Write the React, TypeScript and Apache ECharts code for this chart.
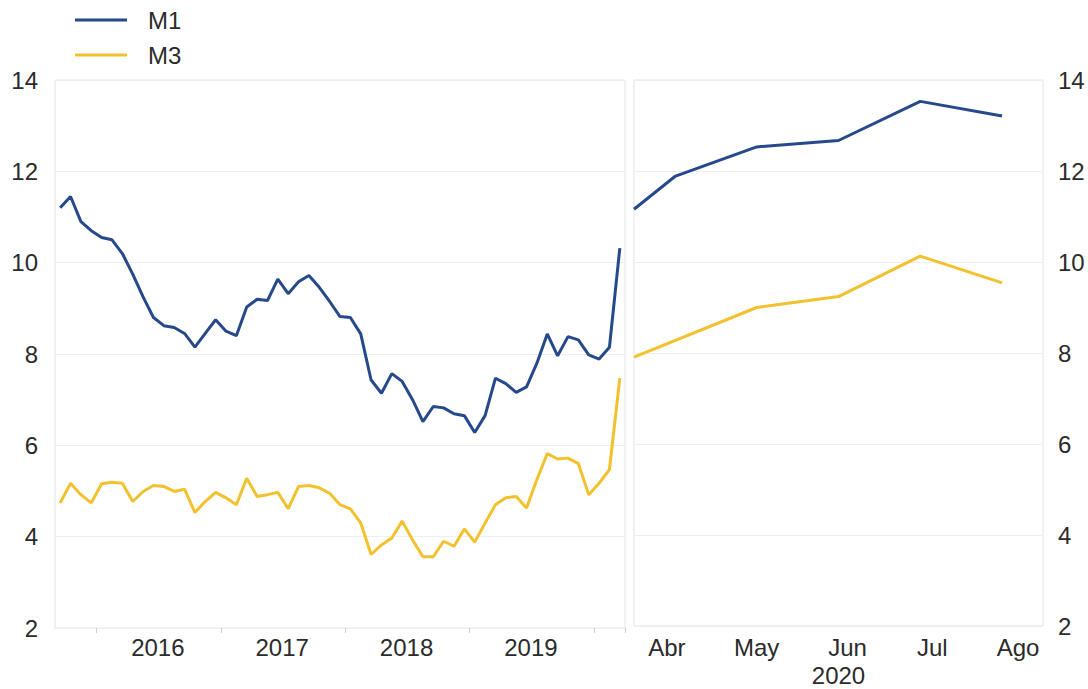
import React, { useEffect, useRef } from "react";
import * as echarts from "echarts";

const months: string[] = [
  "2015-09", "2015-10", "2015-11", "2015-12",
  "2016-01", "2016-02", "2016-03", "2016-04", "2016-05", "2016-06", "2016-07", "2016-08", "2016-09", "2016-10", "2016-11", "2016-12",
  "2017-01", "2017-02", "2017-03", "2017-04", "2017-05", "2017-06", "2017-07", "2017-08", "2017-09", "2017-10", "2017-11", "2017-12",
  "2018-01", "2018-02", "2018-03", "2018-04", "2018-05", "2018-06", "2018-07", "2018-08", "2018-09", "2018-10", "2018-11", "2018-12",
  "2019-01", "2019-02", "2019-03", "2019-04", "2019-05", "2019-06", "2019-07", "2019-08", "2019-09", "2019-10", "2019-11", "2019-12",
  "2020-01", "2020-02", "2020-03",
];

const m1Hist: number[] = [
  11.2, 11.45, 10.9, 10.7, 10.55, 10.5, 10.2, 9.75, 9.25, 8.8,
  8.62, 8.58, 8.45, 8.15, 8.45, 8.75, 8.5, 8.4, 9.03, 9.2,
  9.17, 9.64, 9.32, 9.58, 9.72, 9.46, 9.15, 8.82, 8.8, 8.44,
  7.43, 7.14, 7.57, 7.4, 7.0, 6.52, 6.85, 6.82, 6.69, 6.65,
  6.28, 6.65, 7.47, 7.35, 7.16, 7.28, 7.8, 8.44, 7.96, 8.38,
  8.31, 7.98, 7.89, 8.15, 10.32,
];

const m3Hist: number[] = [
  4.74, 5.17, 4.92, 4.74, 5.16, 5.19, 5.17, 4.77, 4.99, 5.12,
  5.1, 4.99, 5.04, 4.53, 4.77, 4.97, 4.85, 4.7, 5.28, 4.88,
  4.92, 4.97, 4.61, 5.1, 5.12, 5.07, 4.95, 4.7, 4.61, 4.3,
  3.61, 3.82, 3.97, 4.34, 3.93, 3.56, 3.56, 3.9, 3.79, 4.17,
  3.88, 4.3, 4.7, 4.85, 4.88, 4.63, 5.25, 5.82, 5.7, 5.72,
  5.6, 4.92, 5.17, 5.47, 7.47,
];

// 2020 panel: month labels and observation positions (months after 1 April)
const recentMonths: string[] = ["Abr", "May", "Jun", "Jul", "Ago"];
const m1RecentPos: number[] = [0, 0.5, 1.5, 2.5, 3.5, 4.5];
const m1Recent: number[] = [11.16, 11.88, 12.53, 12.67, 13.53, 13.21];
const m3RecentPos: number[] = [0, 1.5, 2.5, 3.5, 4.5];
const m3Recent: number[] = [7.91, 9.0, 9.24, 10.13, 9.54];

const yTicks = { min: 2, max: 14, interval: 2 };

const BLUE = "#25498a";
const YELLOW = "#f2c12e";
const FONT = "'Liberation Sans', Arial, sans-serif";
const TXT = "#2b2b2b";
const FS = 24;

// per-label horizontal nudge (px) of the 2020 month labels
const monthNudge: Record<string, [number, number]> = {
  Abr: [0, 16],
  May: [0, 0],
  Jun: [18, 0],
  Jul: [24, 0],
  Ago: [32, 0],
};

export default function App() {
  const ref = useRef<HTMLDivElement>(null);

  useEffect(() => {
    if (!ref.current) return;
    const chart = echarts.init(ref.current, undefined, { renderer: "svg" });
    const gridStyle = { show: true, borderColor: "#e4e4e4", borderWidth: 1, backgroundColor: "#fff" };
    const rich: any = {};
    recentMonths.forEach((m) => {
      const [l, r] = monthNudge[m];
      rich[m] = { fontSize: FS, color: TXT, fontFamily: FONT, padding: [0, r, 0, l], lineHeight: 28 };
    });
    rich.yr = { fontSize: FS, color: TXT, fontFamily: FONT, lineHeight: 28 };
    const option: any = {
      animation: false,
      backgroundColor: "#ffffff",
      textStyle: { fontFamily: FONT },
      legend: {
        orient: "vertical",
        left: 70,
        top: 3,
        data: [
          { name: "M1", icon: "rect" },
          { name: "M3", icon: "rect" },
        ],
        itemWidth: 52,
        itemHeight: 3,
        itemGap: 11,
        textStyle: { fontSize: FS, color: TXT, fontFamily: FONT, lineHeight: 24, padding: [0, 0, 0, 16] },
      },
      grid: [
        { left: 55, right: 463, top: 80, bottom: 61, ...gridStyle },
        { left: 634, right: 45, top: 80, bottom: 61, ...gridStyle },
      ],
      xAxis: [
        {
          type: "category",
          gridIndex: 0,
          data: months,
          boundaryGap: true,
          axisLine: { show: false },
          axisTick: {
            show: true,
            length: 5,
            lineStyle: { color: "#d0d0d0" },
            interval: (idx: number, v: string) => v.endsWith("-01"),
          },
          axisLabel: {
            interval: (idx: number, v: string) => v.endsWith("-07"),
            formatter: (v: string) => v.slice(0, 4),
            color: TXT,
            fontSize: FS,
            fontFamily: FONT,
            margin: 7,
            padding: [0, 12, 0, 0],
          },
          splitLine: { show: false },
        },
        {
          type: "value",
          gridIndex: 1,
          min: 0,
          max: 5,
          interval: 0.5,
          axisLine: { show: false },
          axisTick: { show: false },
          splitLine: { show: false },
          axisLabel: {
            color: TXT,
            fontSize: FS,
            fontFamily: FONT,
            margin: 7,
            lineHeight: 28,
            showMinLabel: true,
            showMaxLabel: true,
            rich,
            formatter: (v: number) => {
              const i = Math.round(v - 0.5);
              if (Math.abs(v - 0.5 - i) > 0.01 || i < 0 || i >= recentMonths.length) return "";
              const m = recentMonths[i];
              return m === "Jun" ? `{${m}|${m}}\n{yr|2020}` : `{${m}|${m}}`;
            },
          },
        },
      ],
      yAxis: [
        {
          type: "value",
          gridIndex: 0,
          ...yTicks,
          position: "left",
          axisLine: { show: false },
          axisTick: { show: false },
          axisLabel: { color: TXT, fontSize: FS, fontFamily: FONT, margin: 17 },
          splitLine: { show: true, lineStyle: { color: "#efefef", width: 1 } },
        },
        {
          type: "value",
          gridIndex: 1,
          ...yTicks,
          position: "right",
          axisLine: { show: false },
          axisTick: { show: false },
          axisLabel: { color: TXT, fontSize: FS, fontFamily: FONT, margin: 15 },
          splitLine: { show: true, lineStyle: { color: "#efefef", width: 1 } },
        },
      ],
      series: [
        {
          name: "M1",
          type: "line",
          xAxisIndex: 0,
          yAxisIndex: 0,
          data: m1Hist,
          symbol: "none",
          lineStyle: { color: BLUE, width: 3 },
          itemStyle: { color: BLUE },
        },
        {
          name: "M3",
          type: "line",
          xAxisIndex: 0,
          yAxisIndex: 0,
          data: m3Hist,
          symbol: "none",
          lineStyle: { color: YELLOW, width: 3 },
          itemStyle: { color: YELLOW },
        },
        {
          name: "M1",
          type: "line",
          xAxisIndex: 1,
          yAxisIndex: 1,
          data: m1RecentPos.map((p, i) => [p, m1Recent[i]]),
          symbol: "none",
          lineStyle: { color: BLUE, width: 3 },
          itemStyle: { color: BLUE },
        },
        {
          name: "M3",
          type: "line",
          xAxisIndex: 1,
          yAxisIndex: 1,
          data: m3RecentPos.map((p, i) => [p, m3Recent[i]]),
          symbol: "none",
          lineStyle: { color: YELLOW, width: 3 },
          itemStyle: { color: YELLOW },
        },
      ],
    };
    chart.setOption(option);
    return () => chart.dispose();
  }, []);

  return (
    <div
      ref={ref}
      style={{ position: "fixed", left: 0, top: 0, width: 1088, height: 689, background: "#fff" }}
    />
  );
}
